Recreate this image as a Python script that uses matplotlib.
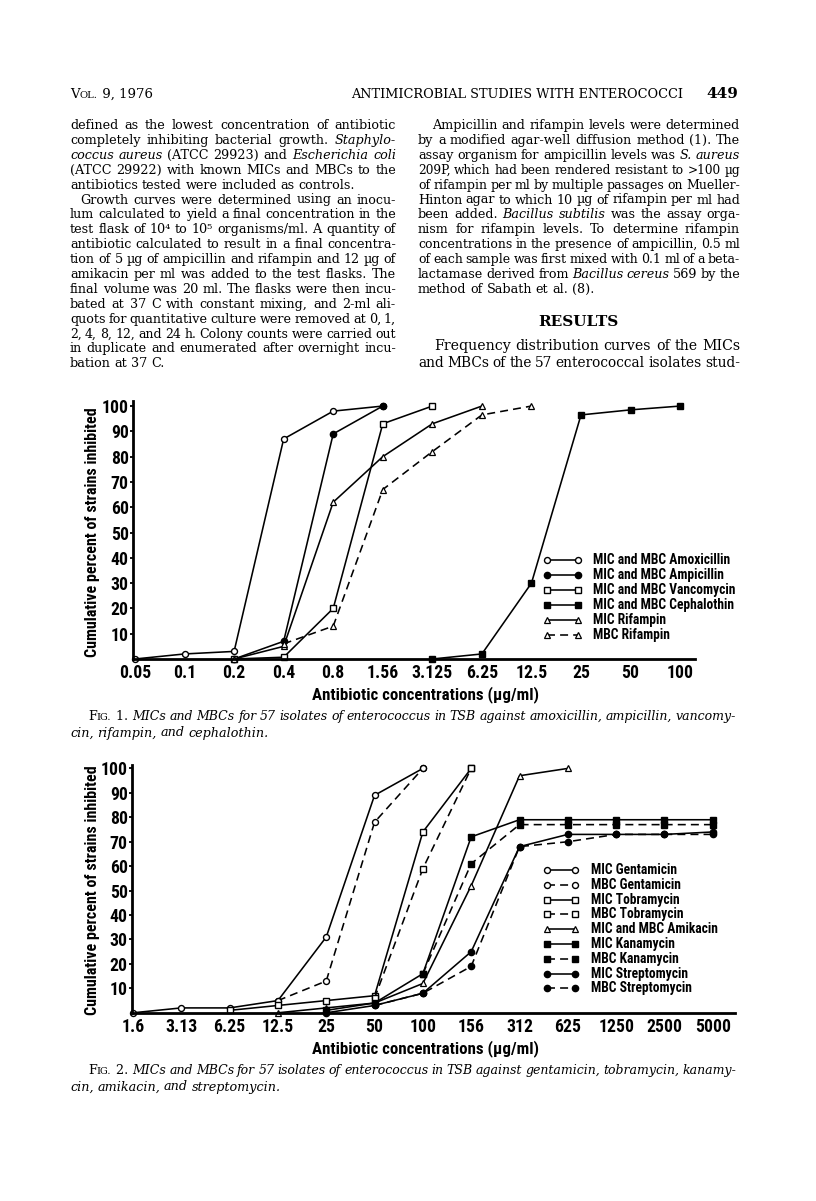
import numpy as np
import matplotlib
matplotlib.use("Agg")
import matplotlib.pyplot as plt
from matplotlib.lines import Line2D
from matplotlib import font_manager as fm

nan = np.nan
W, H = 816, 1201

# ---------------- data: figure 1 ----------------
fig1_conc = ['0.05', '0.1', '0.2', '0.4', '0.8', '1.56', '3.125', '6.25', '12.5', '25', '50', '100']
amoxicillin = [0, 2, 3, 87, 98, 100, nan, nan, nan, nan, nan, nan]
ampicillin = [nan, nan, 0, 7, 89, 100, nan, nan, nan, nan, nan, nan]
vancomycin = [nan, nan, 0, 0.7, 20, 93, 100, nan, nan, nan, nan, nan]
cephalothin = [nan, nan, nan, nan, nan, nan, 0, 2, 30, 96.5, 98.5, 100]
rifampin_mic = [nan, nan, 0, 5, 62, 80, 93, 100, nan, nan, nan, nan]
rifampin_mbc = [nan, nan, nan, 6, 13, 67, 82, 96.5, 100, nan, nan, nan]
fig1_labels = ['MIC and MBC Amoxicillin', 'MIC and MBC Ampicillin', 'MIC and MBC Vancomycin',
               'MIC and MBC Cephalothin', 'MIC Rifampin', 'MBC Rifampin']

# ---------------- data: figure 2 ----------------
fig2_conc = ['1.6', '3.13', '6.25', '12.5', '25', '50', '100', '156', '312', '625', '1250', '2500', '5000']
gentamicin_mic = [0, 2, 2, 5, 31, 89, 100, nan, nan, nan, nan, nan, nan]
gentamicin_mbc = [nan, nan, nan, 5, 13, 78, 100, nan, nan, nan, nan, nan, nan]
tobramycin_mic = [nan, nan, 1, 3, 5, 7, 74, 100, nan, nan, nan, nan, nan]
tobramycin_mbc = [nan, nan, nan, nan, nan, 6, 59, 100, nan, nan, nan, nan, nan]
amikacin = [nan, nan, nan, 0, 2, 4, 12, 52, 97, 100, nan, nan, nan]
kanamycin_mic = [nan, nan, nan, nan, 1, 4, 16, 72, 79, 79, 79, 79, 79]
kanamycin_mbc = [nan, nan, nan, nan, nan, nan, 16, 61, 77, 77, 77, 77, 77]
streptomycin_mic = [nan, nan, nan, nan, 0, 3, 8, 25, 68, 73, 73, 73, 74]
streptomycin_mbc = [nan, nan, nan, nan, nan, 3, 8, 19, 68, 70, 73, 73, 73]
fig2_labels = ['MIC Gentamicin', 'MBC Gentamicin', 'MIC Tobramycin', 'MBC Tobramycin',
               'MIC and MBC Amikacin', 'MIC Kanamycin', 'MBC Kanamycin', 'MIC Streptomycin',
               'MBC Streptomycin']

yticks = [10, 20, 30, 40, 50, 60, 70, 80, 90, 100]
SERIF = ['DejaVu Serif']

# narrow bold sans for chart text (first installed family of the list is used)
_names = {e.name for e in fm.fontManager.ttflist}
_pref = [f for f in ['Liberation Sans Narrow', 'Roboto Condensed', 'Liberation Sans', 'Roboto']
         if f in _names]
CHKW = dict(fontfamily=_pref[:1] + ['DejaVu Sans'], fontweight='bold')

fig = plt.figure(figsize=(W / 100, H / 100), dpi=100)
fig.patch.set_facecolor('white')
renderer = fig.canvas.get_renderer()


def fx(x):
    return x / W


def fy(y):
    return 1 - y / H


def width_of(text, kw):
    t = fig.text(0, 0, text, **kw)
    w = t.get_window_extent(renderer).width
    t.remove()
    return w


def fit_size(text, target, lo, hi):
    w = width_of(text, dict(CHKW, fontsize=10))
    return max(lo, min(hi, 10 * target / w))


TICK_FS = fit_size('3.125', 41, 10, 13)
LEG_FS = fit_size('MIC and MBC Amoxicillin', 137, 8, 10.5)
YLAB_FS = fit_size('Cumulative percent of strains inhibited', 255, 8.5, 11.5)
XLAB_FS = fit_size('Antibiotic concentrations (\u00b5g/ml)', 226, 9.5, 12.5)

DASH = (0, (5, 3.2))


def style(kind, dashed):
    d = dict(color='black', lw=1.15, linestyle=DASH if dashed else '-')
    if kind == 'oc':
        d.update(marker='o', ms=4.3, mfc='white', mec='black', mew=1.0)
    elif kind == 'fc':
        d.update(marker='o', ms=4.5, mfc='black', mec='black', mew=1.0)
    elif kind == 'os':
        d.update(marker='s', ms=3.8, mfc='white', mec='black', mew=1.0)
    elif kind == 'fs':
        d.update(marker='s', ms=4.2, mfc='black', mec='black', mew=1.0)
    elif kind == 'ot':
        d.update(marker='^', ms=4.0, mfc='white', mec='black', mew=0.9)
    return d


def make_axes(left, right, bottom, top, cats, xr, ytop):
    ax = fig.add_axes([fx(left), fy(bottom), (right - left) / W, (bottom - top) / H])
    ax.set_xlim(*xr)
    ax.set_ylim(0, ytop)
    for s in ['top', 'right']:
        ax.spines[s].set_visible(False)
    for s in ['left', 'bottom']:
        ax.spines[s].set_linewidth(2.0)
    ax.set_xticks(range(len(cats)))
    ax.set_xticklabels(cats, fontsize=TICK_FS, **CHKW)
    ax.set_yticks(yticks)
    ax.set_yticklabels([str(v) for v in yticks], fontsize=TICK_FS, **CHKW)
    ax.tick_params(axis='x', length=0, pad=3.5)
    ax.tick_params(axis='y', length=2.5, width=1.3, pad=0.5)
    ax.patch.set_alpha(0)
    return ax


def legend(entries, x0, x1, xt, y0, dy):
    for i, (lab, kind, dashed) in enumerate(entries):
        y = y0 + dy * i
        st = style(kind, dashed)
        ln = Line2D([fx(x0), fx(x1)], [fy(y), fy(y)], transform=fig.transFigure, **st)
        fig.add_artist(ln)
        fig.text(fx(xt), fy(y), lab, fontsize=LEG_FS, va='center', ha='left', **CHKW)


# ---------------- figure 1 ----------------
ax1 = make_axes(133, 695, 659, 401, fig1_conc, (-0.04, 11.3), 102)
x1 = np.arange(len(fig1_conc))
series1 = [(amoxicillin, 'oc', False), (ampicillin, 'fc', False), (vancomycin, 'os', False),
           (cephalothin, 'fs', False), (rifampin_mic, 'ot', False), (rifampin_mbc, 'ot', True)]
for (vals, kind, dashed) in series1:
    v = np.array(vals, dtype=float)
    m = ~np.isnan(v)
    ax1.plot(x1[m], v[m], clip_on=False, **style(kind, dashed))
legend([(l, k, d) for l, (_, k, d) in zip(fig1_labels, series1)], 547, 578, 593, 560, 15)

# ---------------- figure 2 ----------------
ax2 = make_axes(132, 735, 1012.8, 765, fig2_conc, (-0.02, 12.46), 101.4)
x2 = np.arange(len(fig2_conc))
series2 = [(gentamicin_mic, 'oc', False), (gentamicin_mbc, 'oc', True), (tobramycin_mic, 'os', False),
           (tobramycin_mbc, 'os', True), (amikacin, 'ot', False), (kanamycin_mic, 'fs', False),
           (kanamycin_mbc, 'fs', True), (streptomycin_mic, 'fc', False), (streptomycin_mbc, 'fc', True)]
for (vals, kind, dashed) in series2:
    v = np.array(vals, dtype=float)
    m = ~np.isnan(v)
    ax2.plot(x2[m], v[m], clip_on=False, **style(kind, dashed))
legend([(l, k, d) for l, (_, k, d) in zip(fig2_labels, series2)], 547, 575, 591, 870, 14.8)

# axis titles
for yc, xl_y in [(532, 695), (890, 1049)]:
    fig.text(fx(93), fy(yc), 'Cumulative percent of strains inhibited', rotation=90,
             fontsize=YLAB_FS, ha='center', va='center', **CHKW)
    fig.text(fx(425), fy(xl_y), 'Antibiotic concentrations (\u00b5g/ml)',
             fontsize=XLAB_FS, ha='center', va='center', **CHKW)


# ---------------- page text ----------------
BODY = 9.2


def body_kw(style_='normal', size=BODY, weight='normal'):
    return dict(fontfamily=SERIF, fontsize=size, fontstyle=style_, fontweight=weight)


def parse_words(line, size):
    words = []
    ital = False
    for tok in line.split(' '):
        runs = []
        buf = ''
        for ch in tok:
            if ch == '*':
                if buf:
                    runs.append((buf, body_kw('italic' if ital else 'normal', size)))
                buf = ''
                ital = not ital
            else:
                buf += ch
        if buf:
            runs.append((buf, body_kw('italic' if ital else 'normal', size)))
        if runs:
            words.append(runs)
    return words


def draw_line(line, x0, x1, y, size=BODY, justify=True):
    mingap = 2.8
    for _ in range(8):
        words = parse_words(line, size)
        widths = [sum(width_of(t, k) for t, k in w) for w in words]
        if not justify or sum(widths) + mingap * (len(words) - 1) <= (x1 - x0):
            break
        size *= 0.975
    space = size * 100 / 72 * 0.3
    if justify and len(words) > 1:
        gap = max((x1 - x0 - sum(widths)) / (len(words) - 1), mingap)
    else:
        gap = space
    x = x0
    for w, wd in zip(words, widths):
        xx = x
        for t, k in w:
            fig.text(fx(xx), fy(y), t, va='baseline', ha='left', **k)
            xx += width_of(t, k)
        x += wd + gap


def draw_par(lines, x0, x1, y0, dy, indent=0, size=BODY):
    for i, ln in enumerate(lines):
        last = (i == len(lines) - 1)
        draw_line(ln, x0 + (indent if i == 0 else 0), x1, y0 + dy * i, size, justify=not last)


# header
hx = 70
for t, s in [('V', 9.5), ('OL.', 7.2), (' 9, 1976', 9.5)]:
    fig.text(fx(hx), fy(98), t, va='baseline', ha='left', **body_kw(size=s))
    hx += width_of(t, body_kw(size=s)) + (1 if t == 'OL.' else 0)
fig.text(fx(683), fy(98), 'ANTIMICROBIAL STUDIES WITH ENTEROCOCCI', va='baseline', ha='right',
         **body_kw(size=9.3))
fig.text(fx(738), fy(98), '449', va='baseline', ha='right', **body_kw(size=11, weight='bold'))

L0, L1, R0, R1 = 70, 396, 418, 740
dy = 14.9
b0 = 129
par1 = ['defined as the lowest concentration of antibiotic',
        'completely inhibiting bacterial growth. *Staphylo-*',
        '*coccus aureus* (ATCC 29923) and *Escherichia coli*',
        '(ATCC 29922) with known MICs and MBCs to the',
        'antibiotics tested were included as controls.']
par2 = ['Growth curves were determined using an inocu-',
        'lum calculated to yield a final concentration in the',
        'test flask of 10\u2074 to 10\u2075 organisms/ml. A quantity of',
        'antibiotic calculated to result in a final concentra-',
        'tion of 5 \u00b5g of ampicillin and rifampin and 12 \u00b5g of',
        'amikacin per ml was added to the test flasks. The',
        'final volume was 20 ml. The flasks were then incu-',
        'bated at 37 C with constant mixing, and 2-ml ali-',
        'quots for quantitative culture were removed at 0, 1,',
        '2, 4, 8, 12, and 24 h. Colony counts were carried out',
        'in duplicate and enumerated after overnight incu-',
        'bation at 37 C.']
par3 = ['Ampicillin and rifampin levels were determined',
        'by a modified agar-well diffusion method (1). The',
        'assay organism for ampicillin levels was *S. aureus*',
        '209P, which had been rendered resistant to >100 \u00b5g',
        'of rifampin per ml by multiple passages on Mueller-',
        'Hinton agar to which 10 \u00b5g of rifampin per ml had',
        'been added. *Bacillus subtilis* was the assay orga-',
        'nism for rifampin levels. To determine rifampin',
        'concentrations in the presence of ampicillin, 0.5 ml',
        'of each sample was first mixed with 0.1 ml of a beta-',
        'lactamase derived from *Bacillus cereus* 569 by the',
        'method of Sabath et al. (8).']
par4 = ['Frequency distribution curves of the MICs',
        'and MBCs of the 57 enterococcal isolates stud-']

draw_par(par1, L0, L1, b0, dy)
draw_par(par2, L0, L1, b0 + 5 * dy, dy, indent=10)
draw_par(par3, R0, R1, b0, dy, indent=14)
fig.text(fx(578), fy(326), 'RESULTS', ha='center', va='baseline', **body_kw(size=11, weight='bold'))
for i, ln in enumerate(par4):
    draw_line(ln, R0 + (16 if i == 0 else 0), R1, 350 + 17 * i, size=10.2, justify=True)


# captions
def caption(num, l1, l2, y):
    x = 88
    for t, s in [('F', 9.2), ('IG.', 7), (' %d.' % num, 9.2)]:
        fig.text(fx(x), fy(y), t, va='baseline', ha='left', **body_kw(size=s))
        x += width_of(t, body_kw(size=s)) + (1 if t == 'IG.' else 0)
    draw_line('*' + l1 + '*', x + 4, 736, y, size=9.2, justify=True)
    draw_line('*' + l2 + '*', 70, 736, y + 16.5, size=9.2, justify=False)


caption(1, 'MICs and MBCs for 57 isolates of enterococcus in TSB against amoxicillin, ampicillin, vancomy-',
        'cin, rifampin, and cephalothin.', 720)
caption(2, 'MICs and MBCs for 57 isolates of enterococcus in TSB against gentamicin, tobramycin, kanamy-',
        'cin, amikacin, and streptomycin.', 1074)

fig.savefig('out.png', dpi=100, facecolor='white')
